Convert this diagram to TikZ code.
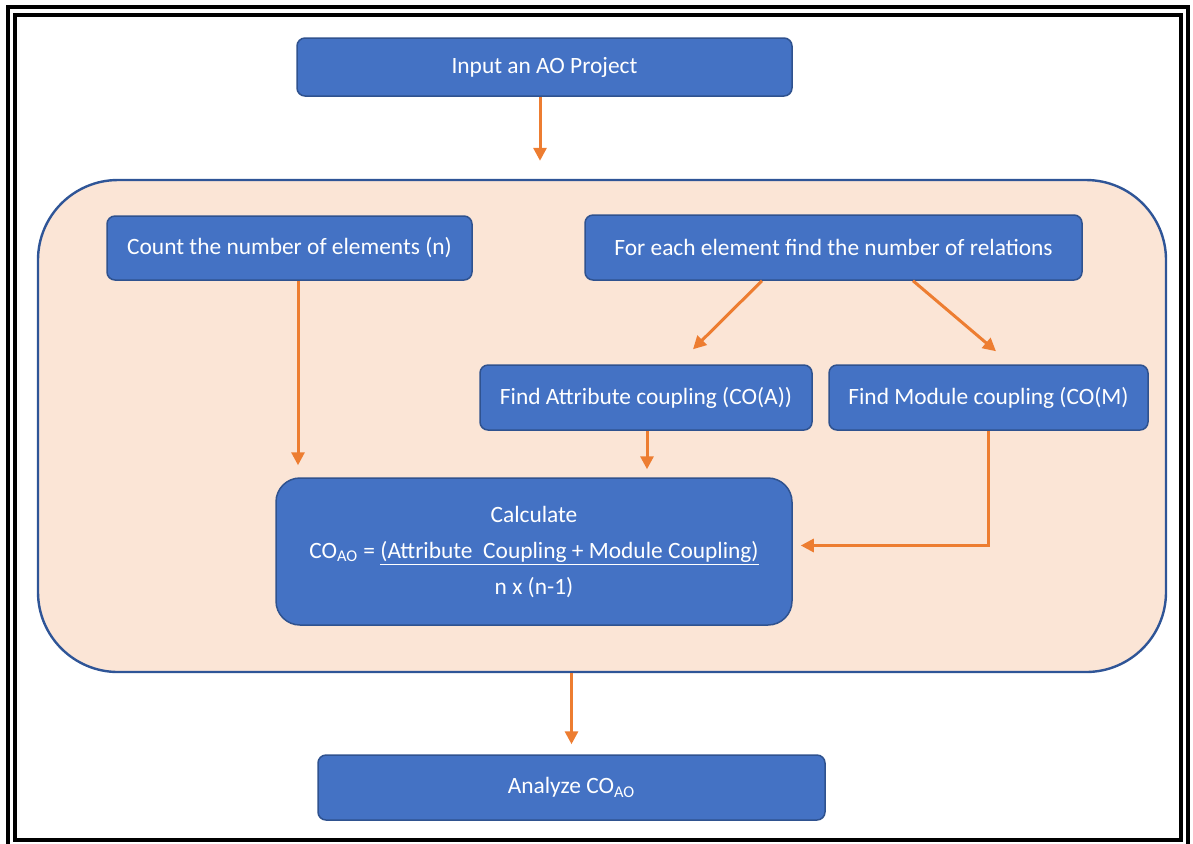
\documentclass[tikz,border=0pt]{standalone}
\usepackage{fontspec}
\setmainfont{Carlito}
\usepackage{xcolor}
\usepackage{tikz}
\usetikzlibrary{arrows.meta,positioning}
\definecolor{boxBlue}{RGB}{68,114,196}
\definecolor{boxBlueDark}{RGB}{47,82,143}
\definecolor{regionPeach}{RGB}{251,229,214}
\definecolor{regionEdge}{RGB}{47,85,151}
\definecolor{flowOrange}{RGB}{237,125,49}

\begin{document}
\begin{tikzpicture}[x=0.5pt,y=-0.5pt,
  stepbox/.style={draw=boxBlueDark, line width=0.75pt, fill=boxBlue, rounded corners=4pt,
    text=white, font=\fontsize{11.7}{18}\selectfont, align=center, inner sep=0pt},
  flow/.style={flowOrange, line width=1.5pt, -{Triangle[length=6.5pt,width=6.5pt]}}]
\useasboundingbox (0,0) rectangle (1193,843);
% double frame
\draw[line width=2pt] (8,7) rectangle (1187.5,849);
\draw[line width=2pt] (15,15) rectangle (1180.5,840);
% shaded region around the counting steps
\node[draw=regionEdge, line width=1.2pt, fill=regionPeach, rounded corners=40pt,
  minimum width=564pt, minimum height=246pt] (region) at (602,426) {};
\node[stepbox, minimum width=247.5pt, minimum height=29pt] (input) at (544.5,67) {Input an AO Project};
\node[stepbox, minimum width=182.5pt, minimum height=32pt] (count) at (289.5,248) {Count the number of elements (n)};
\node[stepbox, minimum width=248.5pt, minimum height=32.5pt] (relations) at (833.5,247.5) {For each element find the number of relations};
\node[stepbox, minimum width=166pt, minimum height=32.5pt] (attr) at (646,397.5) {Find Attribute coupling (CO(A))};
\node[stepbox, minimum width=159.5pt, minimum height=32.5pt] (module) at (988.5,397.5) {Find Module coupling (CO(M)};
\node[stepbox, rounded corners=12pt, minimum width=258pt, minimum height=73.5pt] (calc) at (534,551.5)
  {Calculate\\CO\textsubscript{AO} = \underline{(Attribute\ \ Coupling + Module Coupling)}\\n x (n-1)};
\node[stepbox, minimum width=253.5pt, minimum height=32.5pt] (analyze) at (571.5,787.5) {Analyze CO\textsubscript{AO}};
% connectors
\draw[flow, shorten >=9pt] ([xshift=-2.25pt]input.south) -- ([xshift=-2.25pt]input.south |- region.north);
\draw[flow, shorten >=6pt] ([xshift=4.25pt]count.south) -- ([xshift=4.25pt]count.south |- calc.north);
\draw[flow] ([xshift=-35.75pt]relations.south) -- ([xshift=23.5pt,yshift=7.5pt]attr.north);
\draw[flow] ([xshift=39.75pt]relations.south) -- ([xshift=3.75pt,yshift=6.5pt]module.north);
\draw[flow, shorten >=4pt] ([xshift=0.5pt]attr.south) -- ([xshift=0.5pt]attr.south |- calc.north);
\draw[flow, shorten >=4pt] (module.south) |- ([yshift=3pt]calc.east);
\draw[flow, shorten >=5pt] (region.south -| analyze.north) -- (analyze.north);
\end{tikzpicture}
\end{document}
